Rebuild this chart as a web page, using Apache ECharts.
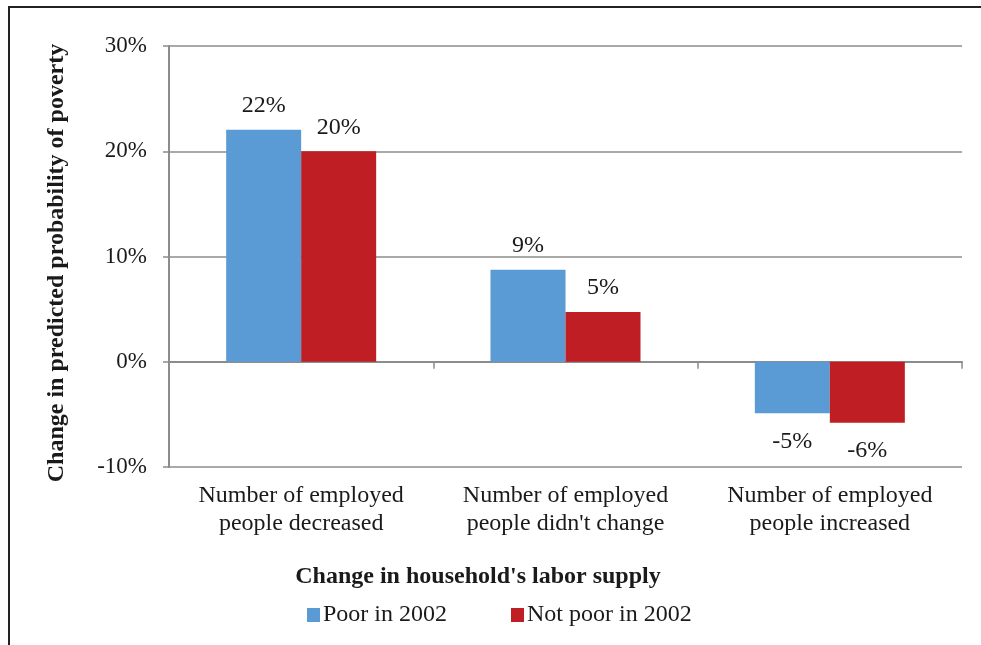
<!DOCTYPE html>
<html>
<head>
<meta charset="utf-8">
<style>
  html, body { margin: 0; padding: 0; background: #ffffff; }
  #chart { width: 981px; height: 645px; }
</style>
<script src="https://cdn.jsdelivr.net/npm/echarts@6/dist/echarts.min.js"></script>
</head>
<body>
<div id="chart"></div>
<script>
// Categories of change in household labor supply
const categories = [
  'Number of employed\npeople decreased',
  'Number of employed\npeople didn\'t change',
  'Number of employed\npeople increased'
];
// Change in predicted probability of poverty (percentage points)
const poorIn2002 = [22.05, 8.75, -4.9];
const notPoorIn2002 = [20.0, 4.72, -5.8];
const seriesNames = ['Poor in 2002', 'Not poor in 2002'];
const yTicks = { min: -10, max: 30, interval: 10 };

const FONT = '"Liberation Serif", "Times New Roman", serif';
const TEXT = '#1a1a1a';
const GRID_COLOR = '#8c8c8c';

function toBarData(values) {
  return values.map(v => ({
    value: v,
    label: { position: v < 0 ? 'bottom' : 'top', distance: v < 0 ? 16 : 12 }
  }));
}

const labelStyle = {
  show: true,
  formatter: p => Math.round(p.value) + '%',
  fontFamily: FONT,
  fontSize: 24,
  color: TEXT
};

const chart = echarts.init(document.getElementById('chart'), null, { renderer: 'canvas' });

chart.setOption({
  backgroundColor: '#ffffff',
  animation: false,
  grid: { left: 169, right: 19, top: 46, bottom: 178, containLabel: false },
  legend: {
    data: seriesNames,
    left: 302,
    top: 598,
    icon: 'rect',
    itemWidth: 13,
    itemHeight: 14,
    itemGap: 64,
    textStyle: { fontFamily: FONT, fontSize: 24, color: TEXT, padding: [0, 0, 0, -2] }
  },
  xAxis: [
    {
      type: 'category',
      data: categories,
      position: 'bottom',
      axisLine: { show: false, onZero: false },
      axisTick: { show: false },
      axisLabel: {
        interval: 0,
        hideOverlap: false,
        margin: 15,
        fontFamily: FONT,
        fontSize: 24,
        lineHeight: 28,
        color: TEXT
      }
    },
    {
      type: 'category',
      data: categories,
      position: 'bottom',
      axisLine: { show: true, onZero: true, lineStyle: { color: GRID_COLOR, width: 2 } },
      axisTick: { show: true, length: 7, lineStyle: { color: GRID_COLOR, width: 1.5 } },
      axisLabel: { show: false }
    }
  ],
  yAxis: {
    type: 'value',
    min: yTicks.min,
    max: yTicks.max,
    interval: yTicks.interval,
    axisLine: { show: true, lineStyle: { color: GRID_COLOR, width: 2 } },
    axisTick: { show: true, length: 6, lineStyle: { color: GRID_COLOR, width: 1.5 } },
    splitLine: { show: true, lineStyle: { color: GRID_COLOR, width: 1.5 } },
    axisLabel: {
      margin: 22,
      formatter: v => v + '%',
      fontFamily: FONT,
      fontSize: 23,
      color: TEXT
    }
  },
  series: [
    {
      name: seriesNames[0],
      type: 'bar',
      xAxisIndex: 0,
      data: toBarData(poorIn2002),
      barWidth: 75,
      barGap: '0%',
      itemStyle: { color: '#5b9bd5' },
      label: labelStyle
    },
    {
      name: seriesNames[1],
      type: 'bar',
      xAxisIndex: 0,
      data: toBarData(notPoorIn2002),
      barWidth: 75,
      barGap: '0%',
      itemStyle: { color: '#be1e24' },
      label: labelStyle
    }
  ],
  graphic: [
    {
      type: 'polyline',
      silent: true,
      shape: { points: [[9, 645], [9, 7], [981, 7]] },
      style: { stroke: '#222222', lineWidth: 2, fill: null }
    },
    {
      type: 'text',
      x: 57,
      y: 263,
      rotation: Math.PI / 2,
      style: {
        text: 'Change in predicted probability of poverty',
        font: 'bold 24px ' + FONT,
        fill: TEXT,
        align: 'center',
        verticalAlign: 'middle'
      }
    },
    {
      type: 'text',
      x: 478,
      y: 577,
      style: {
        text: 'Change in household\'s labor supply',
        font: 'bold 24px ' + FONT,
        fill: TEXT,
        align: 'center',
        verticalAlign: 'middle'
      }
    }
  ]
});
</script>
</body>
</html>
